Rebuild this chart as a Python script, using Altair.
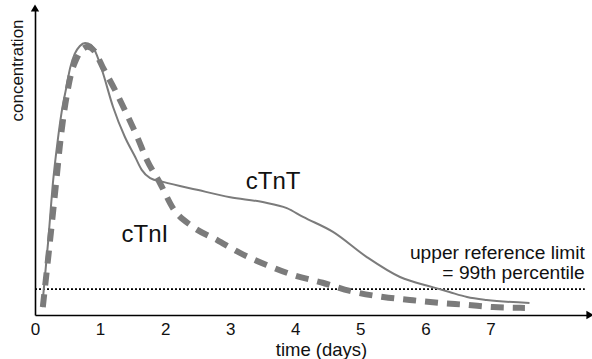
import altair as alt
import pandas as pd

# Troponin release curves after myocardial infarction (arbitrary concentration units)
ctnt_days = [0.11, 0.20, 0.28, 0.35, 0.41, 0.48, 0.54, 0.61, 0.69, 0.77, 0.86, 0.95,
             1.03, 1.20, 1.38, 1.54, 1.64, 1.77, 1.97, 2.49, 3.00, 3.50, 3.87, 4.12,
             4.58, 5.10, 5.61, 6.11, 6.37, 6.64, 6.94, 7.60]
ctnt_conc = [2.9, 26.3, 49.4, 64.0, 74.3, 83.1, 90.4, 95.5, 98.4, 99.5, 98.8, 95.1,
             89.6, 76.1, 65.2, 57.8, 53.1, 50.1, 48.7, 45.8, 43.1, 41.3, 39.1, 35.9,
             30.4, 21.2, 13.9, 10.2, 8.4, 6.6, 5.5, 4.4]

ctni_days = [0.12, 0.34, 0.38, 0.43, 0.49, 0.55, 0.63, 0.72, 0.81, 0.91, 1.04, 1.23,
             1.38, 1.57, 1.72, 1.92, 2.12, 2.43, 2.80, 3.15, 3.56, 3.96, 4.42, 4.84,
             5.35, 5.76, 6.22, 6.64, 7.04, 7.53]
ctni_conc = [2.9, 52.0, 61.5, 71.3, 80.5, 87.8, 93.3, 97.0, 98.1, 96.6, 90.7, 82.3,
             75.0, 65.2, 56.7, 48.3, 39.1, 32.2, 27.4, 22.7, 18.3, 14.7, 11.8, 8.8,
             6.6, 5.5, 4.4, 3.7, 2.9, 2.6]

# 99th percentile upper reference limit
url_level = 9.5
url_span = [0.0, 8.45]

tick_days = [0, 1, 2, 3, 4, 5, 6, 7]
x_max = 8.53
y_max = 112.3

label_text = ["cTnT", "cTnI"]
label_days = [3.66, 1.69]
label_conc = [48.7, 29.3]

note_text = ["upper reference limit", "= 99th percentile"]
note_days = [8.45, 8.45]
note_conc = [22.7, 15.4]

FONT = "Liberation Sans"
GREY = "#7b7b7b"

ctnt = pd.DataFrame({"t": ctnt_days, "c": ctnt_conc})
ctni = pd.DataFrame({"t": ctni_days, "c": ctni_conc})
url = pd.DataFrame({"t": url_span, "c": [url_level, url_level]})
labels = pd.DataFrame({"t": label_days, "c": label_conc, "txt": label_text})
notes = pd.DataFrame({"t": note_days, "c": note_conc, "txt": note_text})
arrows = pd.DataFrame({"t": [x_max, 0.0], "c": [0.0, y_max],
                       "shape": ["triangle-right", "triangle-up"]})

x_scale = alt.Scale(domain=[0, x_max], nice=False, zero=True)
y_scale = alt.Scale(domain=[0, y_max], nice=False, zero=True)

x_axis = alt.Axis(values=tick_days, ticks=False, grid=False, domainColor="black",
                  domainWidth=1.6, labelFont=FONT, labelFontSize=17, labelColor="#111",
                  labelPadding=6, labelFlush=False, title="time (days)", titleFont=FONT,
                  titleFontSize=18.5, titleFontWeight="normal", titleColor="#111",
                  titleX=286, titleY=34, titleBaseline="middle")
y_axis = alt.Axis(labels=False, ticks=False, grid=False, domainColor="black",
                  domainWidth=1.6, title="concentration", titleFont=FONT,
                  titleFontSize=17, titleFontWeight="normal", titleColor="#111",
                  titleX=-18, titleY=62, titleAngle=-90, titleAlign="center",
                  titleBaseline="middle")

X = alt.X("t:Q", scale=x_scale, axis=x_axis)
Y = alt.Y("c:Q", scale=y_scale, axis=y_axis)

ref_line = alt.Chart(url).mark_line(color="black", strokeWidth=1.8,
                                    strokeDash=[2, 2]).encode(x=X, y=Y)

ctni_line = alt.Chart(ctni).mark_line(color=GREY, strokeWidth=6, strokeDash=[13, 9],
                                      strokeCap="butt", interpolate="monotone"
                                      ).encode(x=X, y=Y, order="t:Q")

ctnt_line = alt.Chart(ctnt).mark_line(color=GREY, strokeWidth=2,
                                      interpolate="monotone"
                                      ).encode(x=X, y=Y, order="t:Q")

label_marks = alt.Chart(labels).mark_text(font=FONT, fontSize=24, color="#111",
                                          align="center", baseline="middle"
                                          ).encode(x=X, y=Y, text="txt:N")

note_marks = alt.Chart(notes).mark_text(font=FONT, fontSize=19.2, color="#111",
                                        align="right", baseline="middle"
                                        ).encode(x=X, y=Y, text="txt:N")

arrow_marks = alt.Chart(arrows).mark_point(filled=True, color="black", size=70,
                                           opacity=1).encode(
    x=X, y=Y, shape=alt.Shape("shape:N", scale=None, legend=None))

chart = alt.layer(ref_line, ctni_line, ctnt_line, label_marks, note_marks,
                  arrow_marks).properties(
    width=555, height=307,
    autosize=alt.AutoSizeParams(type="none"),
    padding={"left": 35, "top": 8, "right": 2, "bottom": 44},
    background="white",
).configure_view(stroke=None)

chart.save("out.html", embed_options={"renderer": "svg", "actions": False})
